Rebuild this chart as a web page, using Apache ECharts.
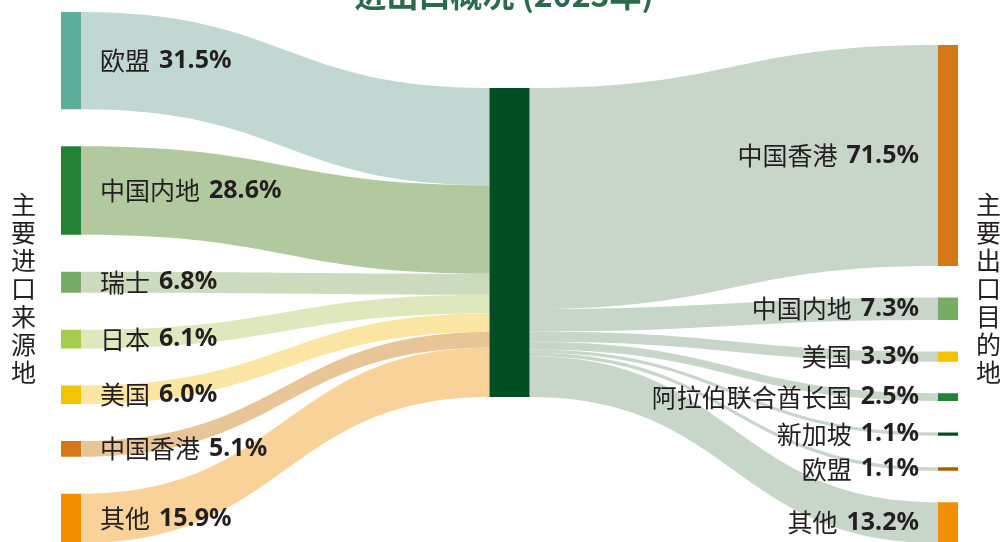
<!DOCTYPE html>
<html lang="zh-CN">
<head>
<meta charset="utf-8">
<title>进出口概况 (2023年)</title>
<script src="https://cdn.jsdelivr.net/npm/echarts@6/dist/echarts.min.js"></script>
<style>
    html, body { margin: 0; padding: 0; background: #fff; }
    #chart { width: 1008px; height: 542px; }
</style>
</head>
<body>
<div id="chart"></div>
<script>
    // 主要进口来源地 (%)
    var importNames = ['欧盟', '中国内地', '瑞士', '日本', '美国', '中国香港', '其他'];
    var importShares = [31.5, 28.6, 6.8, 6.1, 6.0, 5.1, 15.9];
    // 主要出口目的地 (%)
    var exportNames = ['中国香港', '中国内地', '美国', '阿拉伯联合酋长国', '新加坡', '欧盟', '其他'];
    var exportShares = [71.5, 7.3, 3.3, 2.5, 1.1, 1.1, 13.2];

    var importColors = ['#5aae9a', '#228335', '#78ab66', '#a5cd4c', '#f3c300', '#d27916', '#f18f00'];
    var importLinkColors = ['#c0d8d1', '#b2c99f', '#ccdbbd', '#dde9bd', '#fae5a3', '#e8c597', '#f8d298'];
    var exportColors = ['#d27916', '#78ab66', '#f3c300', '#228335', '#004f23', '#a26200', '#f18f00'];
    var exportLinkColor = '#c7d6c9';
    var hubColor = '#004f23';
    var textColor = '#231f20';

    var TOP = 12, HEIGHT = 531, GAP = 37;
    // same scale echarts uses for node height: px per %
    var KY = (HEIGHT - (importNames.length - 1) * GAP) / 100;

    function stackTops(shares, start, gap) {
        var tops = [], y = start;
        shares.forEach(function (v) {
            tops.push(y);
            y += v * KY + gap;
        });
        return tops;
    }
    var importTops = stackTops(importShares, 12, 37);
    var exportTops = stackTops(exportShares, 45, 31.5);
    var hubTop = 88;

    // nodes are 40 wide (hub width); side nodes only paint half of it
    function halfFill(color, side) {
        var t = 'rgba(255,255,255,0)';
        var stops = side === 'right'
            ? [{offset: 0, color: t}, {offset: 0.5, color: t}, {offset: 0.5, color: color}, {offset: 1, color: color}]
            : [{offset: 0, color: color}, {offset: 0.5, color: color}, {offset: 0.5, color: t}, {offset: 1, color: t}];
        return new echarts.graphic.LinearGradient(0, 0, 1, 0, stops);
    }

    function labelText(name, share) {
        return '{n|' + name + '}{s|}{v|' + share.toFixed(1) + '%}';
    }

    var nodes = [];
    var links = [];
    importNames.forEach(function (n, i) {
        nodes.push({
            name: '进口:' + n,
            localY: (importTops[i] - TOP) / HEIGHT,
            itemStyle: { color: halfFill(importColors[i], 'right') },
            label: { position: 'right', formatter: labelText(n, importShares[i]) }
        });
        links.push({ source: '进口:' + n, target: '进出口', value: importShares[i], lineStyle: { color: importLinkColors[i] } });
    });
    nodes.push({
        name: '进出口',
        localY: (hubTop - TOP) / HEIGHT,
        itemStyle: { color: hubColor },
        label: { show: false }
    });
    exportNames.forEach(function (n, i) {
        nodes.push({
            name: '出口:' + n,
            localY: (exportTops[i] - TOP) / HEIGHT,
            itemStyle: { color: halfFill(exportColors[i], 'left') },
            label: { position: 'left', formatter: labelText(n, exportShares[i]) }
        });
        links.push({ source: '进出口', target: '出口:' + n, value: exportShares[i], lineStyle: { color: exportLinkColor } });
    });

    var chart = echarts.init(document.getElementById('chart'));
    chart.setOption({
        animation: false,
        backgroundColor: '#fff',
        graphic: [
            {
                type: 'text', x: 504, y: -21,
                style: { text: '进出口概况 (2023年)', font: 'bold 32px "Noto Sans CJK SC"', fill: '#2b6a4d', align: 'center' }
            },
            {
                type: 'text', x: 11, y: 190,
                style: { text: '主\n要\n进\n口\n来\n源\n地', font: '25px "Noto Sans CJK SC"', lineHeight: 28, fill: textColor }
            },
            {
                type: 'text', x: 976, y: 190,
                style: { text: '主\n要\n出\n口\n目\n的\n地', font: '25px "Noto Sans CJK SC"', lineHeight: 28, fill: textColor }
            }
        ],
        series: [{
            type: 'sankey',
            left: 41,
            width: 937,
            top: TOP,
            height: HEIGHT,
            nodeWidth: 40,
            nodeGap: GAP,
            layoutIterations: 0,
            draggable: false,
            emphasis: { disabled: true },
            lineStyle: { opacity: 1, curveness: 0.5 },
            label: {
                distance: 19,
                rich: {
                    n: { fontFamily: 'Noto Sans CJK SC', fontSize: 25, color: textColor },
                    s: { width: 9 },
                    v: { fontFamily: 'Noto Sans', fontSize: 25, fontWeight: 'bold', color: textColor }
                }
            },
            data: nodes,
            links: links
        }]
    });
</script>
</body>
</html>
